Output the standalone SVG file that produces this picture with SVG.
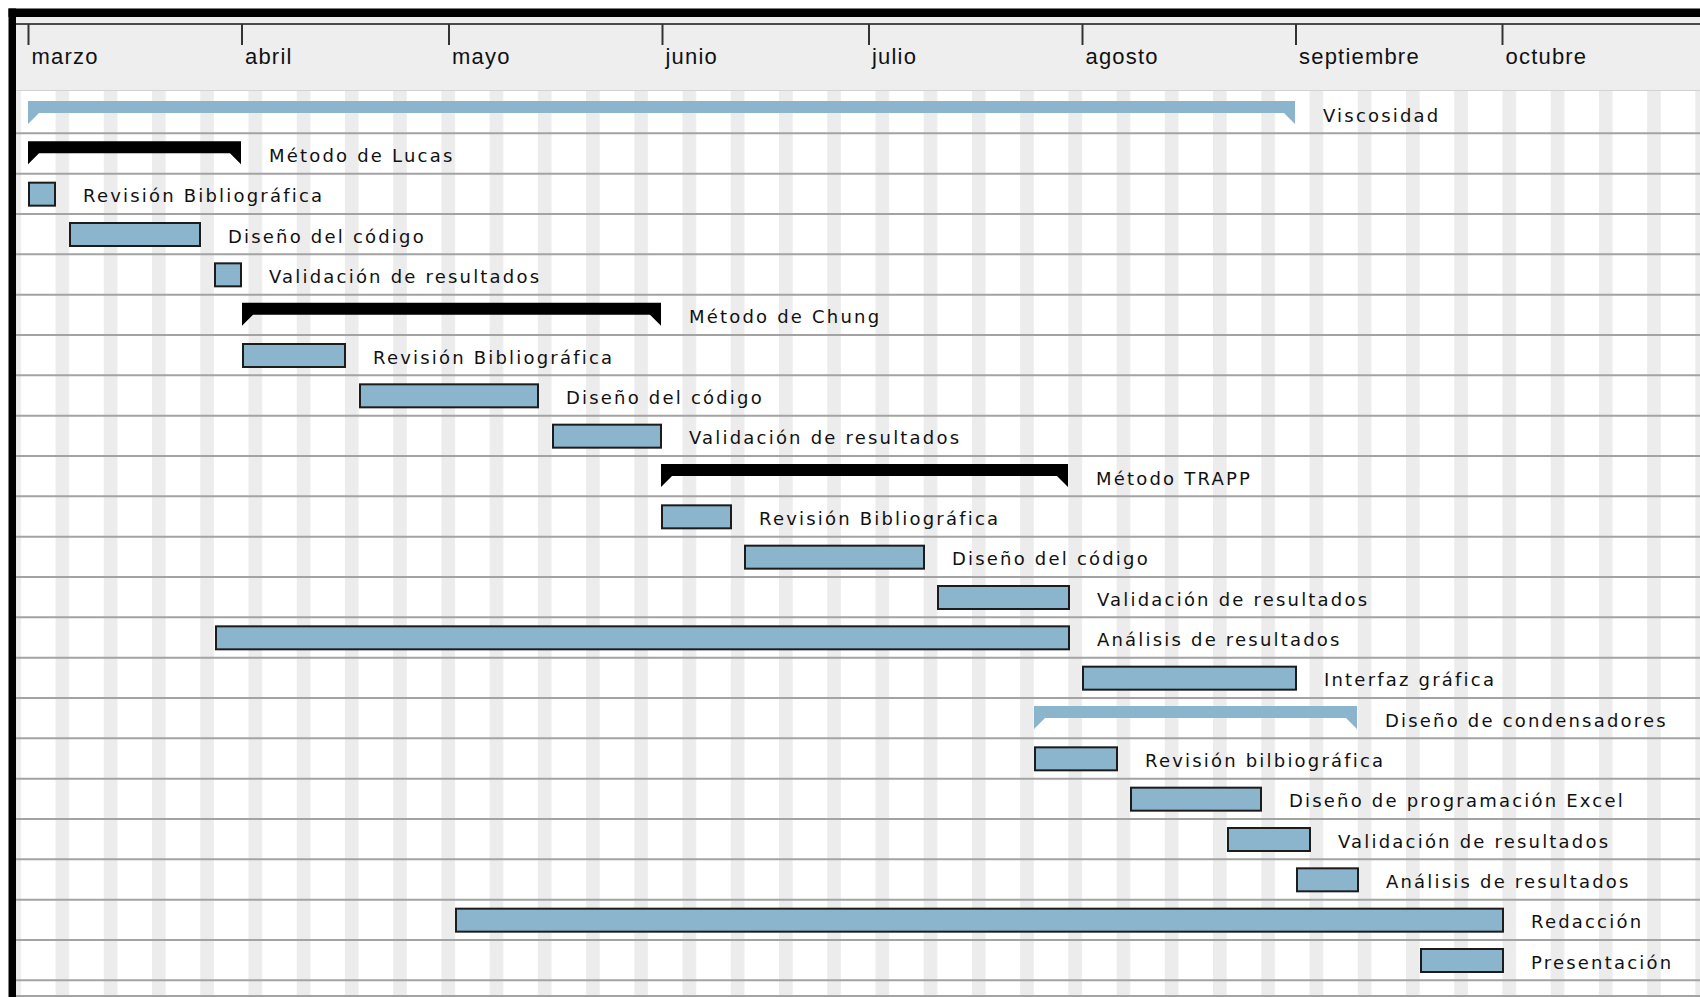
<svg xmlns="http://www.w3.org/2000/svg" width="1700" height="997" viewBox="0 0 1700 997">
<defs>
<pattern id="weeks" patternUnits="userSpaceOnUse" x="55.56" y="0" width="48.23" height="20">
<rect x="0" y="0" width="13.6" height="20" fill="#ececec"/>
</pattern>
<style>
.month{font-family:"Liberation Sans",Arial,sans-serif;font-size:22px;letter-spacing:1.2px;fill:#111}
.lbl{font-family:"DejaVu Sans","Noto Sans",sans-serif;font-size:18px;letter-spacing:2.2px;fill:#111}
.task{fill:#8bb4cd;stroke:#1c1c1c;stroke-width:2}
.sumb{fill:#000}
.suml{fill:#8bb4cd}
.rowline{stroke:#a3a3a3;stroke-width:2}
.tick{stroke:#333;stroke-width:2}
</style>
</defs>
<rect x="0" y="0" width="1700" height="997" fill="#fff"/>
<g id="background">
<rect x="16" y="91" width="1684" height="906" fill="url(#weeks)"/>
<rect x="16" y="17" width="1684" height="73" fill="#eeeeee"/>
<line x1="16" y1="90.5" x2="1700" y2="90.5" stroke="#d2d2d2" stroke-width="1"/>
<line x1="16" y1="24" x2="1700" y2="24" stroke="#4a4a4a" stroke-width="2"/>
</g>
<g id="axis">
<line class="tick" x1="28.5" y1="24" x2="28.5" y2="45"/>
<line class="tick" x1="242" y1="24" x2="242" y2="45"/>
<line class="tick" x1="449" y1="24" x2="449" y2="45"/>
<line class="tick" x1="662.5" y1="24" x2="662.5" y2="45"/>
<line class="tick" x1="869" y1="24" x2="869" y2="45"/>
<line class="tick" x1="1082.5" y1="24" x2="1082.5" y2="45"/>
<line class="tick" x1="1296" y1="24" x2="1296" y2="45"/>
<line class="tick" x1="1502.5" y1="24" x2="1502.5" y2="45"/>
<text class="month" x="31.5" y="64">marzo</text>
<text class="month" x="245" y="64">abril</text>
<text class="month" x="452" y="64">mayo</text>
<text class="month" x="665.5" y="64">junio</text>
<text class="month" x="872" y="64">julio</text>
<text class="month" x="1085.5" y="64">agosto</text>
<text class="month" x="1299" y="64">septiembre</text>
<text class="month" x="1505.5" y="64">octubre</text>
</g>
<g id="rowlines">
<line class="rowline" x1="16" y1="133.3" x2="1700" y2="133.3"/>
<line class="rowline" x1="16" y1="173.7" x2="1700" y2="173.7"/>
<line class="rowline" x1="16" y1="214" x2="1700" y2="214"/>
<line class="rowline" x1="16" y1="254.3" x2="1700" y2="254.3"/>
<line class="rowline" x1="16" y1="294.7" x2="1700" y2="294.7"/>
<line class="rowline" x1="16" y1="335" x2="1700" y2="335"/>
<line class="rowline" x1="16" y1="375.3" x2="1700" y2="375.3"/>
<line class="rowline" x1="16" y1="415.7" x2="1700" y2="415.7"/>
<line class="rowline" x1="16" y1="456" x2="1700" y2="456"/>
<line class="rowline" x1="16" y1="496.3" x2="1700" y2="496.3"/>
<line class="rowline" x1="16" y1="536.7" x2="1700" y2="536.7"/>
<line class="rowline" x1="16" y1="577" x2="1700" y2="577"/>
<line class="rowline" x1="16" y1="617.3" x2="1700" y2="617.3"/>
<line class="rowline" x1="16" y1="657.7" x2="1700" y2="657.7"/>
<line class="rowline" x1="16" y1="698" x2="1700" y2="698"/>
<line class="rowline" x1="16" y1="738.3" x2="1700" y2="738.3"/>
<line class="rowline" x1="16" y1="778.7" x2="1700" y2="778.7"/>
<line class="rowline" x1="16" y1="819" x2="1700" y2="819"/>
<line class="rowline" x1="16" y1="859.3" x2="1700" y2="859.3"/>
<line class="rowline" x1="16" y1="899.7" x2="1700" y2="899.7"/>
<line class="rowline" x1="16" y1="940" x2="1700" y2="940"/>
<line class="rowline" x1="16" y1="980.3" x2="1700" y2="980.3"/>
<line class="rowline" x1="16" y1="996" x2="1700" y2="996"/>
</g>
<g id="row0" transform="translate(0,113)">
<polygon class="suml" points="28,-12 1295,-12 1295,11 1284,0 39,0 28,11"/>
<text class="lbl" x="1323" y="8.5">Viscosidad</text>
</g>
<g id="row1" transform="translate(0,153.33)">
<polygon class="sumb" points="28,-12 241,-12 241,11 230,0 39,0 28,11"/>
<text class="lbl" x="269" y="8.5">Método de Lucas</text>
</g>
<g id="row2" transform="translate(0,193.67)">
<rect class="task" x="29" y="-11" width="26" height="23"/>
<text class="lbl" x="83" y="8.5">Revisión Bibliográfica</text>
</g>
<g id="row3" transform="translate(0,234)">
<rect class="task" x="70" y="-11" width="130" height="23"/>
<text class="lbl" x="228" y="8.5">Diseño del código</text>
</g>
<g id="row4" transform="translate(0,274.33)">
<rect class="task" x="215" y="-11" width="26" height="23"/>
<text class="lbl" x="269" y="8.5">Validación de resultados</text>
</g>
<g id="row5" transform="translate(0,314.67)">
<polygon class="sumb" points="242,-12 661,-12 661,11 650,0 253,0 242,11"/>
<text class="lbl" x="689" y="8.5">Método de Chung</text>
</g>
<g id="row6" transform="translate(0,355)">
<rect class="task" x="243" y="-11" width="102" height="23"/>
<text class="lbl" x="373" y="8.5">Revisión Bibliográfica</text>
</g>
<g id="row7" transform="translate(0,395.33)">
<rect class="task" x="360" y="-11" width="178" height="23"/>
<text class="lbl" x="566" y="8.5">Diseño del código</text>
</g>
<g id="row8" transform="translate(0,435.67)">
<rect class="task" x="553" y="-11" width="108" height="23"/>
<text class="lbl" x="689" y="8.5">Validación de resultados</text>
</g>
<g id="row9" transform="translate(0,476)">
<polygon class="sumb" points="661,-12 1068,-12 1068,11 1057,0 672,0 661,11"/>
<text class="lbl" x="1096" y="8.5">Método TRAPP</text>
</g>
<g id="row10" transform="translate(0,516.33)">
<rect class="task" x="662" y="-11" width="69" height="23"/>
<text class="lbl" x="759" y="8.5">Revisión Bibliográfica</text>
</g>
<g id="row11" transform="translate(0,556.67)">
<rect class="task" x="745" y="-11" width="179" height="23"/>
<text class="lbl" x="952" y="8.5">Diseño del código</text>
</g>
<g id="row12" transform="translate(0,597)">
<rect class="task" x="938" y="-11" width="131" height="23"/>
<text class="lbl" x="1097" y="8.5">Validación de resultados</text>
</g>
<g id="row13" transform="translate(0,637.33)">
<rect class="task" x="216" y="-11" width="853" height="23"/>
<text class="lbl" x="1097" y="8.5">Análisis de resultados</text>
</g>
<g id="row14" transform="translate(0,677.67)">
<rect class="task" x="1083" y="-11" width="213" height="23"/>
<text class="lbl" x="1324" y="8.5">Interfaz gráfica</text>
</g>
<g id="row15" transform="translate(0,718)">
<polygon class="suml" points="1034,-12 1357,-12 1357,11 1346,0 1045,0 1034,11"/>
<text class="lbl" x="1385" y="8.5">Diseño de condensadores</text>
</g>
<g id="row16" transform="translate(0,758.33)">
<rect class="task" x="1035" y="-11" width="82" height="23"/>
<text class="lbl" x="1145" y="8.5">Revisión bilbiográfica</text>
</g>
<g id="row17" transform="translate(0,798.67)">
<rect class="task" x="1131" y="-11" width="130" height="23"/>
<text class="lbl" x="1289" y="8.5">Diseño de programación Excel</text>
</g>
<g id="row18" transform="translate(0,839)">
<rect class="task" x="1228" y="-11" width="82" height="23"/>
<text class="lbl" x="1338" y="8.5">Validación de resultados</text>
</g>
<g id="row19" transform="translate(0,879.33)">
<rect class="task" x="1297" y="-11" width="61" height="23"/>
<text class="lbl" x="1386" y="8.5">Análisis de resultados</text>
</g>
<g id="row20" transform="translate(0,919.67)">
<rect class="task" x="456" y="-11" width="1047" height="23"/>
<text class="lbl" x="1531" y="8.5">Redacción</text>
</g>
<g id="row21" transform="translate(0,960)">
<rect class="task" x="1421" y="-11" width="82" height="23"/>
<text class="lbl" x="1531" y="8.5">Presentación</text>
</g>
<g id="frame">
<rect x="8.5" y="8.5" width="1691.5" height="8.5" fill="#000"/>
<rect x="8.5" y="8.5" width="7.5" height="988.5" fill="#000"/>
</g>
</svg>
